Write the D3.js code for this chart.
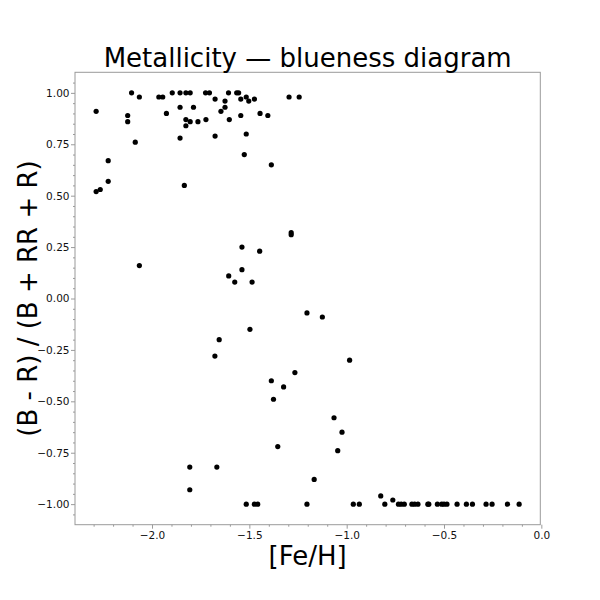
<!DOCTYPE html>
<html>
<head>
<meta charset="utf-8">
<script src="https://cdn.jsdelivr.net/npm/d3@7"></script>
<style>
  html, body { margin: 0; padding: 0; background: #fff; }
  svg { display: block; font-family: "DejaVu Sans", sans-serif; }
</style>
</head>
<body>
<svg id="chart" width="600" height="600"></svg>
<script>
// ---- data ----
const feH = [
  -2.105, -1.896, -1.856, -1.826, -1.804, -1.725, -1.705, -1.607, -1.565, -1.555,
  -2.065, -1.965, -1.945, -1.516, -1.296, -1.244,
  -1.676, -1.544, -1.474,
  -1.625, -1.503,
  -1.856, -1.787, -1.625,
  -2.287, -1.646,
  -1.926, -1.445,
  -2.125, -1.544, -1.405,
  -1.826, -1.723, -1.603,
  -2.125, -1.804, -1.764,
  -1.826, -1.516, -1.676, -1.856, -2.086, -1.526,
  -2.225, -1.387, -2.225, -1.834, -2.266, -2.287,
  -1.285, -1.285, -1.538, -1.447, -2.065, -1.538, -1.606, -1.575, -1.486,
  -1.204, -1.125, -1.497, -1.655, -1.677, -0.985, -1.266, -1.387, -1.324, -1.376,
  -1.065, -1.024, -1.354, -1.046, -1.806, -1.667, -1.167, -1.806, -0.825, -0.763,
  -1.516, -1.474, -1.457, -1.204, -0.966, -0.935, -0.804, -0.734, -0.720, -0.704,
  -0.665, -0.651, -0.634, -0.583, -0.578, -0.534, -0.512, -0.500, -0.485, -0.433,
  -0.385, -0.354, -0.284, -0.253, -0.174, -0.114
];
const blueness = [
  1.00, 1.00, 1.00, 1.00, 1.00, 1.00, 1.00, 1.00, 1.00, 1.00,
  0.98, 0.98, 0.98, 0.98, 0.98, 0.98,
  0.97, 0.97, 0.97,
  0.96, 0.96,
  0.93, 0.93, 0.93,
  0.91, 0.91,
  0.90, 0.90,
  0.89, 0.89, 0.89,
  0.87, 0.87, 0.87,
  0.86, 0.86, 0.86,
  0.84, 0.80, 0.79, 0.78, 0.76, 0.70,
  0.67, 0.65, 0.57, 0.55, 0.53, 0.52,
  0.32, 0.31, 0.25, 0.23, 0.16, 0.14, 0.11, 0.08, 0.08,
  -0.07, -0.09, -0.15, -0.20, -0.28, -0.30, -0.36, -0.40, -0.43, -0.49,
  -0.58, -0.65, -0.72, -0.74, -0.82, -0.82, -0.88, -0.93, -0.96, -0.98,
  -1.00, -1.00, -1.00, -1.00, -1.00, -1.00, -1.00, -1.00, -1.00, -1.00,
  -1.00, -1.00, -1.00, -1.00, -1.00, -1.00, -1.00, -1.00, -1.00, -1.00,
  -1.00, -1.00, -1.00, -1.00, -1.00, -1.00
];
const xTicks = [-2.0, -1.5, -1.0, -0.5, 0.0];
const xTickLabels = ["\u22122.0", "\u22121.5", "\u22121.0", "\u22120.5", "0.0"];
const yTicks = [1.0, 0.75, 0.5, 0.25, 0.0, -0.25, -0.5, -0.75, -1.0];
const yTickLabels = ["1.00", "0.75", "0.50", "0.25", "0.00", "\u22120.25", "\u22120.50", "\u22120.75", "\u22121.00"];
const titleText = "Metallicity \u2014 blueness diagram";
const xLabelText = "[Fe/H]";
const yLabelText = "(B - R) / (B + RR + R)";

// ---- layout ----
const L = 75, R = 540.3, T = 72.3, B = 524.7;
const svg = d3.select("#chart");

const xExt = d3.extent(feH), yExt = d3.extent(blueness);
const xPad = (xExt[1] - xExt[0]) * 0.05, yPad = (yExt[1] - yExt[0]) * 0.05;
const x = d3.scaleLinear().domain([xExt[0] - xPad, xExt[1] + xPad]).range([L, R]);
const y = d3.scaleLinear().domain([yExt[0] - yPad, yExt[1] + yPad]).range([B, T]);

const frameColor = "#9a9a9a";

// minor ticks
const xMinor = d3.range(-23, 1).map(d => d / 10).filter(v => v >= x.domain()[0] && v <= x.domain()[1] && !xTicks.some(t => Math.abs(t - v) < 1e-9));
const yMinor = d3.range(-21, 22).map(d => d / 20).filter(v => v >= y.domain()[0] && v <= y.domain()[1] && !yTicks.some(t => Math.abs(t - v) < 1e-9));

const xAxis = d3.axisBottom(x).tickValues(xTicks).tickSize(4).tickPadding(3)
  .tickFormat((d, i) => xTickLabels[i]);
const yAxis = d3.axisLeft(y).tickValues(yTicks).tickSize(4).tickPadding(1.5)
  .tickFormat((d, i) => yTickLabels[i]);

const gx = svg.append("g").attr("transform", `translate(0,${B})`).call(xAxis);
const gy = svg.append("g").attr("transform", `translate(${L},0)`).call(yAxis);
const gxm = svg.append("g").attr("transform", `translate(0,${B})`)
  .call(d3.axisBottom(x).tickValues(xMinor).tickSize(2).tickFormat(""));
const gym = svg.append("g").attr("transform", `translate(${L},0)`)
  .call(d3.axisLeft(y).tickValues(yMinor).tickSize(2).tickFormat(""));

[gx, gy, gxm, gym].forEach(g => {
  g.select(".domain").remove();
  g.selectAll(".tick line").attr("stroke", frameColor).attr("stroke-width", 1);
  g.selectAll(".tick text").attr("fill", "#111").style("font-family", "DejaVu Sans").style("font-size", "10.5px");
});

// frame
svg.append("rect").attr("x", L).attr("y", T).attr("width", R - L).attr("height", B - T)
  .attr("fill", "none").attr("stroke", frameColor).attr("stroke-width", 1);

// points
svg.append("g").selectAll("circle").data(feH).join("circle")
  .attr("cx", d => x(d))
  .attr("cy", (d, i) => y(blueness[i]))
  .attr("r", 2.6)
  .attr("fill", "#000");

// title and labels
svg.append("text").attr("x", (L + R) / 2).attr("y", 67).attr("text-anchor", "middle")
  .style("font-size", "26px").attr("fill", "#000").text(titleText);
svg.append("text").attr("x", (L + R) / 2).attr("y", 565).attr("text-anchor", "middle")
  .style("font-size", "26px").attr("fill", "#000").text(xLabelText);
svg.append("text").attr("transform", `translate(37,${(T + B) / 2}) rotate(-90)`).attr("text-anchor", "middle")
  .style("font-size", "26px").attr("fill", "#000").text(yLabelText);
</script>
</body>
</html>
